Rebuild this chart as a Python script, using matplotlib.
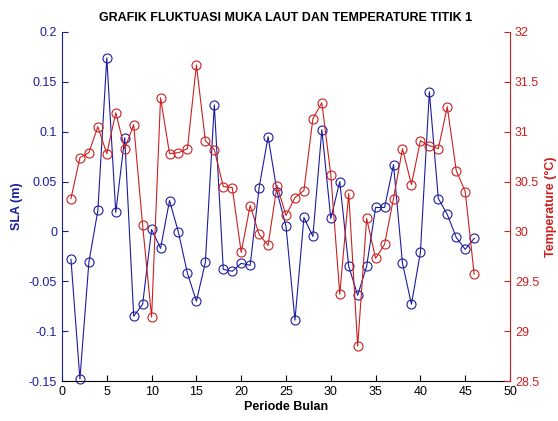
import numpy as np
import matplotlib
matplotlib.use('Agg')
import matplotlib.pyplot as plt

# data (46 monthly points)
periode = np.arange(1, 47)
sla = [-0.028, -0.148, -0.031, 0.021, 0.174, 0.019, 0.094, -0.085, -0.073, 0.002,
       -0.017, 0.031, -0.001, -0.042, -0.070, -0.031, 0.127, -0.038, -0.040, -0.032,
       -0.034, 0.044, 0.095, 0.040, 0.005, -0.089, 0.014, -0.005, 0.102, 0.013,
       0.050, -0.035, -0.064, -0.035, 0.024, 0.024, 0.067, -0.032, -0.073, -0.021,
       0.140, 0.033, 0.017, -0.006, -0.018, -0.007]
temp = [30.33, 30.74, 30.79, 31.05, 30.78, 31.19, 30.83, 31.07, 30.06, 29.14,
        31.34, 30.78, 30.79, 30.83, 31.67, 30.91, 30.82, 30.45, 30.44, 29.79,
        30.26, 29.97, 29.86, 30.46, 30.16, 30.34, 30.41, 31.13, 31.29, 30.57,
        29.37, 30.38, 28.85, 30.13, 29.73, 29.87, 30.33, 30.83, 30.47, 30.91,
        30.86, 30.83, 31.25, 30.61, 30.40, 29.57]

xticks = np.arange(0, 51, 5)
sla_ticks = [-0.15, -0.1, -0.05, 0, 0.05, 0.1, 0.15, 0.2]
sla_labels = ['-0.15', '-0.1', '-0.05', '0', '0.05', '0.1', '0.15', '0.2']
temp_ticks = [28.5, 29, 29.5, 30, 30.5, 31, 31.5, 32]
temp_labels = ['28.5', '29', '29.5', '30', '30.5', '31', '31.5', '32']

blue = '#1c1ca0'
red = '#cc2020'
plt.rcParams['font.family'] = ['Liberation Sans', 'DejaVu Sans']

fig = plt.figure(figsize=(5.58, 4.21), dpi=100)
ax1 = fig.add_axes([62/558, 1 - 381/421, 448/558, 349/421])
ax2 = ax1.twinx()

ax1.plot(periode, sla, '-o', color=blue, lw=0.8, ms=6.5, mfc='none', mew=0.8, clip_on=False)
ax2.plot(periode, temp, '-o', color=red, lw=0.8, ms=6.5, mfc='none', mew=0.8, clip_on=False)

ax1.set_xlim(0, 50)
ax1.set_ylim(-0.15, 0.2)
ax2.set_ylim(28.5, 32)
ax1.set_xticks(xticks)
ax1.set_yticks(sla_ticks)
ax1.set_yticklabels(sla_labels)
ax2.set_yticks(temp_ticks)
ax2.set_yticklabels(temp_labels)

for ax in (ax1, ax2):
    ax.spines['top'].set_visible(False)
    ax.tick_params(direction='in', length=4, width=0.8, labelsize=9)
ax1.spines['left'].set_color(blue)
ax1.spines['bottom'].set_color('black')
ax1.spines['right'].set_visible(False)
ax2.spines['left'].set_visible(False)
ax2.spines['bottom'].set_visible(False)
ax2.spines['right'].set_color(red)
ax1.tick_params(axis='y', colors=blue)
ax1.tick_params(axis='x', colors='black')
ax2.tick_params(axis='y', colors=red)

ax1.set_xlabel('Periode Bulan', fontsize=9, fontweight='bold', labelpad=2)
ax1.set_ylabel('SLA (m)', fontsize=9, fontweight='bold', color=blue, labelpad=4)
ax2.set_ylabel('Temperature (°C)', fontsize=9, fontweight='bold', color=red, labelpad=4)
ax1.set_title('GRAFIK FLUKTUASI MUKA LAUT DAN TEMPERATURE TITIK 1', fontsize=9,
              fontweight='bold', pad=8)

fig.savefig('out.png', dpi=100)
